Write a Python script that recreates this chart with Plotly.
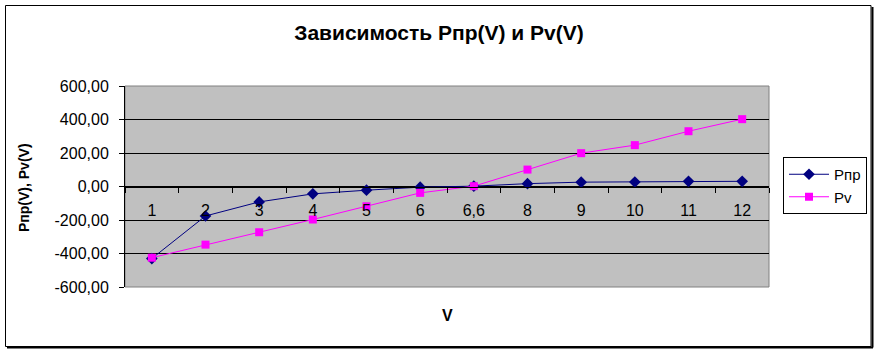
import plotly.graph_objects as go

categories = ["1", "2", "3", "4", "5", "6", "6,6", "8", "9", "10", "11", "12"]
p_pr = [-430, -176, -92, -44, -22, -4, 2, 17, 26, 27, 31, 31]
p_v = [-425, -347, -273, -197, -118, -38, 2, 101, 199, 247, 330, 402]
y_ticks = [-600, -400, -200, 0, 200, 400, 600]
y_ticktext = ["-600,00", "-400,00", "-200,00", "0,00", "200,00", "400,00", "600,00"]

FONT = "Liberation Sans, Arial, sans-serif"

fig = go.Figure()
fig.add_trace(go.Scatter(
    x=categories, y=p_pr, name="Pпр", mode="lines+markers",
    line=dict(color="#000080", width=1),
    marker=dict(symbol="diamond", size=9, color="#000080"),
))
fig.add_trace(go.Scatter(
    x=categories, y=p_v, name="Pv", mode="lines+markers",
    line=dict(color="#FF00FF", width=1),
    marker=dict(symbol="square", size=8, color="#FF00FF"),
))

L, R, T, B = 125, 110, 86, 66
W, H = 879, 353
pw, ph = W - L - R, H - T - B

def px(x):
    return (x - L) / pw

def py(y):
    return (H - B - y) / ph

fig.update_layout(
    width=W, height=H,
    margin=dict(l=L, r=R, t=T, b=B, pad=0, autoexpand=False),
    paper_bgcolor="white",
    plot_bgcolor="#C0C0C0",
    font=dict(family=FONT, size=15, color="black"),
    title=dict(text="<b>Зависимость Pпр(V) и Pv(V)</b>", x=439 / W, xanchor="center",
               y=1 - 33 / H, yanchor="middle", font=dict(size=21, family=FONT)),
    showlegend=True,
    legend=dict(x=px(783), xanchor="left", y=py(157), yanchor="top",
                bordercolor="black", borderwidth=1, bgcolor="white",
                font=dict(size=15, family=FONT), tracegroupgap=0, itemwidth=40),
    xaxis=dict(
        type="category", categoryorder="array", categoryarray=categories,
        anchor="free", position=0.5,
        showline=True, linecolor="black", linewidth=1,
        ticks="outside", ticklen=5, tickcolor="black", tickson="boundaries",
        ticklabelstandoff=9,
        showgrid=False, zeroline=False,
        tickfont=dict(size=16, family=FONT),
        range=[-0.5, len(categories) - 0.5],
    ),
    yaxis=dict(
        range=[-600, 600], tickvals=y_ticks, ticktext=y_ticktext,
        showline=True, linecolor="black", linewidth=1,
        ticks="outside", ticklen=5, tickcolor="black",
        ticklabelstandoff=7,
        showgrid=True, gridcolor="black", gridwidth=1,
        zeroline=False, tickfont=dict(size=16, family=FONT),
    ),
    shapes=[
        dict(type="rect", xref="paper", yref="paper", x0=0, x1=1, y0=0, y1=1,
             line=dict(color="#808080", width=1), layer="below"),
        dict(type="rect", xref="paper", yref="paper",
             x0=px(5.5), x1=px(871), y0=py(346.5), y1=py(5.5),
             line=dict(color="black", width=1)),
        dict(type="line", xref="paper", yref="paper",
             x0=px(872.5), x1=px(872.5), y0=py(347.5), y1=py(7),
             line=dict(color="black", width=2)),
        dict(type="line", xref="paper", yref="paper",
             x0=px(7), x1=px(873), y0=py(347.5), y1=py(347.5),
             line=dict(color="black", width=2)),
    ],
    annotations=[
        dict(text="<b>V</b>", x=px(447), y=py(315), xref="paper", yref="paper",
             xanchor="center", yanchor="middle",
             showarrow=False, font=dict(size=16, family=FONT)),
        dict(text="<b>Pпр(V), Pv(V)</b>", x=px(24), y=py(188), xref="paper", yref="paper",
             xanchor="center", yanchor="middle",
             showarrow=False, textangle=-90, font=dict(size=14, family=FONT)),
    ],
)

fig.write_html("out.html")
